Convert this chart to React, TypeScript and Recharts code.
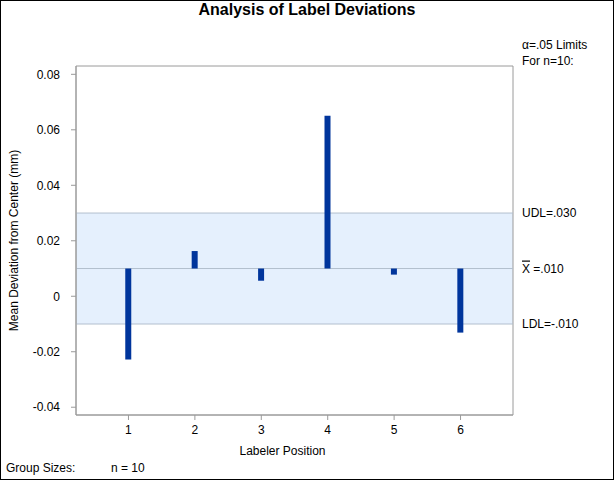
import { ComposedChart, Bar, XAxis, YAxis, ReferenceArea, ReferenceLine } from 'recharts'

const positions = [1, 2, 3, 4, 5, 6]
const meanDeviations = [-0.0228, 0.0163, 0.0056, 0.0651, 0.0078, -0.0131]
const centerLine = 0.01
const upperLimit = 0.03
const lowerLimit = -0.01
const yTicks = [-0.04, -0.02, 0, 0.02, 0.04, 0.06, 0.08]
const xDomain = [0.21, 6.79]
const yDomain = [-0.0428, 0.083]

const data = positions.map((p, i) => ({
  pos: p,
  range: [Math.min(centerLine, meanDeviations[i]), Math.max(centerLine, meanDeviations[i])],
}))

const font = 'Arial, "Liberation Sans", sans-serif'
const axisGray = '#9a9a9a'
const limitLine = '#b2bfce'

function CenterLabel(props: any) {
  const { viewBox } = props
  const x = viewBox.x + viewBox.width + 9
  const y = viewBox.y + 4
  return (
    <text x={x} y={y} fontSize={12} fontFamily={font} fill="#000">
      <tspan textDecoration="overline">X</tspan>
      <tspan> =.010</tspan>
    </text>
  )
}

export default function App() {
  return (
    <div
      style={{
        position: 'absolute',
        left: 0,
        top: 0,
        width: 614,
        height: 480,
        border: '1px solid #000',
        boxSizing: 'border-box',
        background: '#fff',
        fontFamily: font,
        overflow: 'hidden',
      }}
    >
      <div style={{ position: 'absolute', left: 0, top: 0, width: 612, textAlign: 'center', fontWeight: 'bold', fontSize: 16 }}>
        Analysis of Label Deviations
      </div>
      <div style={{ position: 'absolute', left: 521, top: 36, fontSize: 12, lineHeight: '16px' }}>
        α=.05 Limits
        <br />
        For n=10:
      </div>
      <div style={{ position: 'absolute', left: 5, top: 460, fontSize: 12 }}>Group Sizes:</div>
      <div style={{ position: 'absolute', left: 110, top: 460, fontSize: 12 }}>n = 10</div>
      <div style={{ position: 'absolute', left: -1, top: -1 }}>
        <ComposedChart width={614} height={480} data={data} margin={{ top: 66, right: 101, bottom: 20, left: 0 }}>
          <XAxis
            dataKey="pos"
            type="number"
            domain={xDomain}
            ticks={positions}
            height={45}
            stroke={axisGray}
            tickSize={5}
            tickMargin={5}
            tick={{ fill: '#000', fontSize: 12, fontFamily: font }}
            label={{ value: 'Labeler Position', position: 'insideBottom', offset: 5, dx: -12, fill: '#000', fontSize: 12, fontFamily: font }}
          />
          <YAxis
            type="number"
            domain={yDomain}
            ticks={yTicks}
            width={76}
            stroke={axisGray}
            tickSize={5}
            tickMargin={11}
            tickFormatter={(v: number) => (v === 0 ? '0' : v.toFixed(2))}
            tick={{ fill: '#000', fontSize: 12, fontFamily: font }}
            label={{
              value: 'Mean Deviation from Center (mm)',
              angle: -90,
              position: 'insideLeft',
              offset: 14,
              style: { textAnchor: 'middle' },
              fill: '#000',
              fontSize: 12,
              fontFamily: font,
            }}
          />
          <ReferenceArea y1={lowerLimit} y2={upperLimit} fill="#e5f0fd" fillOpacity={1} stroke="none" />
          <ReferenceLine
            y={upperLimit}
            stroke={limitLine}
            label={{ value: 'UDL=.030', position: 'right', offset: 9, fill: '#000', fontSize: 12, fontFamily: font }}
          />
          <ReferenceLine y={centerLine} stroke={limitLine} label={<CenterLabel />} />
          <ReferenceLine
            y={lowerLimit}
            stroke={limitLine}
            label={{ value: 'LDL=-.010', position: 'right', offset: 9, fill: '#000', fontSize: 12, fontFamily: font }}
          />
          <ReferenceArea
            x1={xDomain[0]}
            x2={xDomain[1]}
            y1={yDomain[0]}
            y2={yDomain[1]}
            fill="none"
            stroke={axisGray}
          />
          <Bar dataKey="range" fill="#00359c" barSize={6} zIndex={500} isAnimationActive={false} />
        </ComposedChart>
      </div>
    </div>
  )
}
